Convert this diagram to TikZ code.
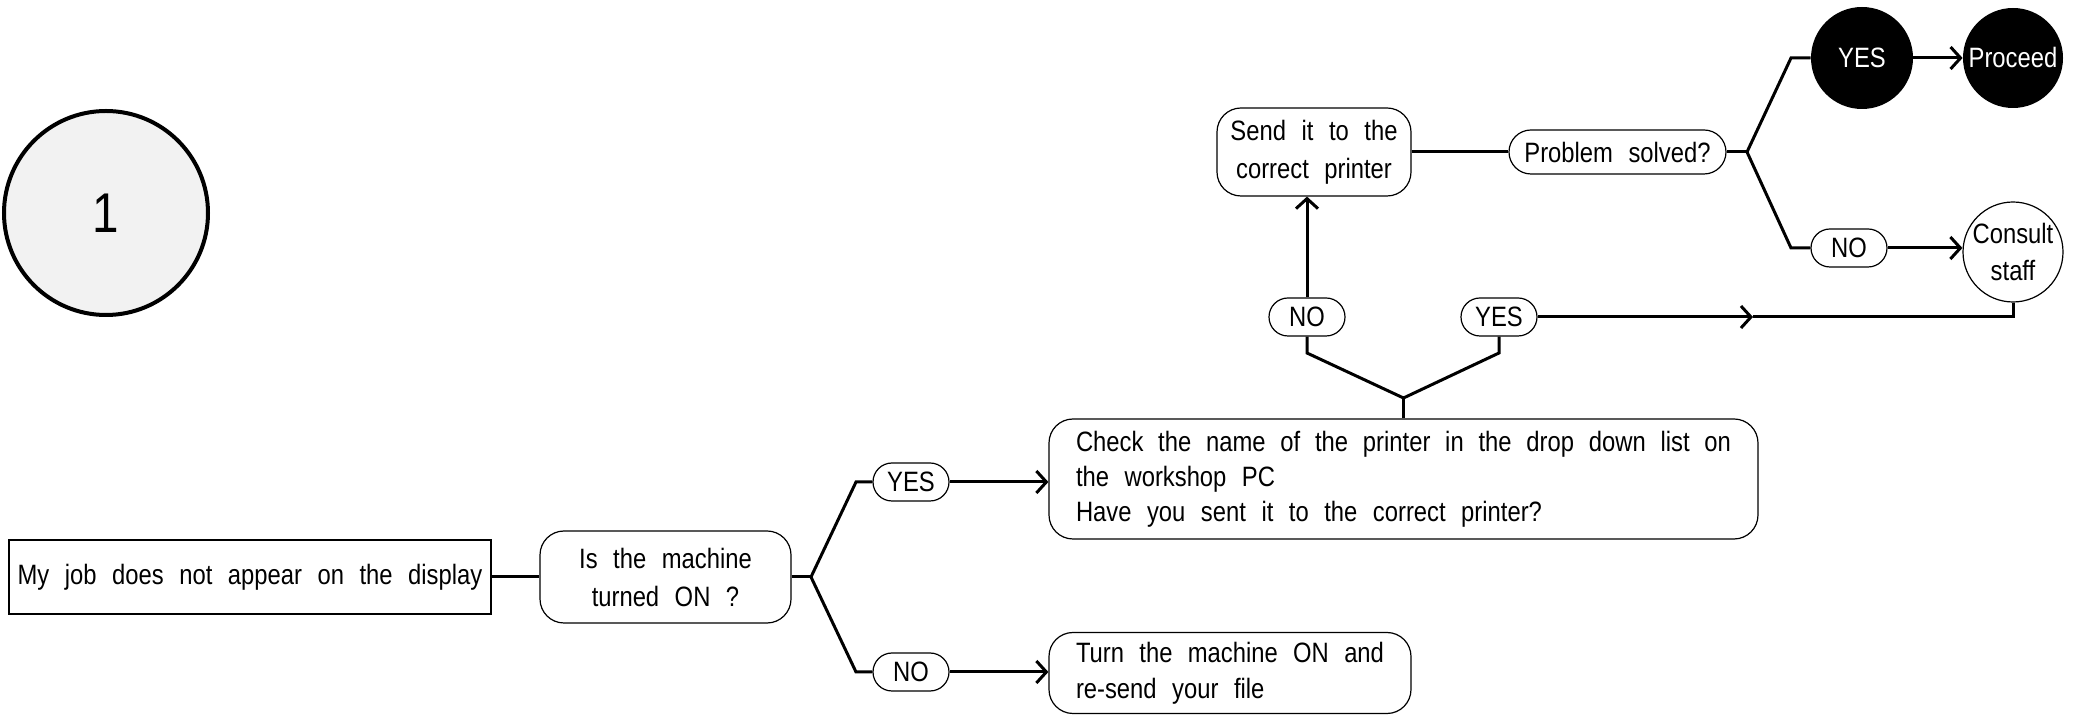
\documentclass[tikz,border=0pt]{standalone}
\usepackage{fontspec}
\setmainfont[FakeStretch=0.85,WordSpace=2.35]{Liberation Sans}
\usetikzlibrary{arrows.meta}
\tikzstyle{txt} = [font=\fontsize{14}{19}\selectfont]
\tikzstyle{plainbox} = [txt, draw=black, line width=0.6pt, rectangle, inner sep=0pt]
\tikzstyle{roundbox} = [plainbox, rounded corners=12pt]
\tikzstyle{pill} = [plainbox, rounded corners=9.5pt, minimum width=38pt, minimum height=19pt]
\tikzstyle{blackdot} = [txt, circle, fill=black, text=white, minimum size=51pt, inner sep=0pt]
\tikzstyle{con} = [line width=1.5pt]
\tikzstyle{conarrow} = [con, -{Straight Barb[length=5pt,width=11pt]}]

\begin{document}
\begin{tikzpicture}[x=0.5pt,y=-0.5pt]
\useasboundingbox (0,0) rectangle (2085,715);
\node[circle, draw=black, line width=2pt, fill=gray!10, minimum size=102pt,
    font=\fontsize{28}{28}\selectfont] (one) at (106,213) {1};

% first question
\node[plainbox, minimum width=241pt, minimum height=37pt] (start) at (250,577)
    {My job does not appear on the display};
\node[roundbox, minimum width=125.5pt, minimum height=46pt, align=center] (machine) at (665.5,577)
    {Is the machine\\turned ON ?};
\coordinate (b1) at (811,577);
\coordinate (k1) at (856,482);
\coordinate (k2) at (856,672);
\node[pill] (yes1) at (911,482) {YES};
\node[pill] (no1) at (911,672) {NO};
\node[roundbox, text width=327.5pt, minimum height=60pt, inner xsep=13.5pt, align=flush left,
    font=\fontsize{14}{17.5}\selectfont] (check) at (1403.5,479)
    {Check the name of the printer in the drop down list on\\the workshop PC\\Have you sent it to the correct printer?};
\node[roundbox, text width=154pt, minimum height=40.5pt, inner xsep=13.5pt, align=flush left,
    font=\fontsize{14}{18}\selectfont] (turn) at (1230,673)
    {Turn the machine ON and\\re-send your file};

% printer check
\coordinate (v) at (1403.5,398);
\coordinate (vl) at (1307,353);
\coordinate (vr) at (1499,353);
\node[pill] (no2) at (1307,317) {NO};
\node[pill] (yes2) at (1499,317) {YES};
\node[roundbox, minimum width=97pt, minimum height=44pt, align=center] (send) at (1314,152)
    {Send it to the\\correct printer};
\node[pill, minimum width=108.5pt, minimum height=22pt, rounded corners=11pt] (problem) at (1617.5,152)
    {Problem solved?};
\coordinate (b2) at (1747,152);
\coordinate (k3) at (1791,58);
\coordinate (k4) at (1791,248);
\node[blackdot] (yes3) at (1862,58) {YES};
\node[blackdot, minimum size=50pt] (proceed) at (2013,58) {Proceed};
\node[pill] (no3) at (1849,248) {NO};
\node[txt, circle, draw=black, line width=0.6pt, minimum size=50pt, inner sep=0pt, align=center,
    font=\fontsize{14}{18.5}\selectfont] (consult) at (2013,252) {Consult\\staff};
\coordinate (m) at (1753,317);
\coordinate (c1) at (2013,317);

% connectors
\draw[con] (start) -- (machine);
\draw[con] (machine) -- (b1);
\draw[con] (b1) -- (k1) -- (yes1);
\draw[con] (b1) -- (k2) -- (no1);
\draw[conarrow] (yes1.east) -- (yes1.east -| check.west);
\draw[conarrow] (no1.east) -- (no1.east -| turn.west);
\draw[con] (check.north) -- (v);
\draw[con] (no2.south) -- (vl) -- (v) -- (vr) -- (yes2.south);
\draw[conarrow] (no2.north) -- (no2.north |- send.south);
\draw[con] (send) -- (problem);
\draw[con] (problem) -- (b2);
\draw[con] (b2) -- (k3) -- (yes3);
\draw[con] (b2) -- (k4) -- (no3);
\draw[conarrow] (yes3) -- (proceed);
\draw[conarrow] (no3.east) -- (no3.east -| consult.west);
\draw[conarrow] (yes2) -- (m);
\draw[con] (m) -- (c1) -- (consult.south);
\end{tikzpicture}
\end{document}
